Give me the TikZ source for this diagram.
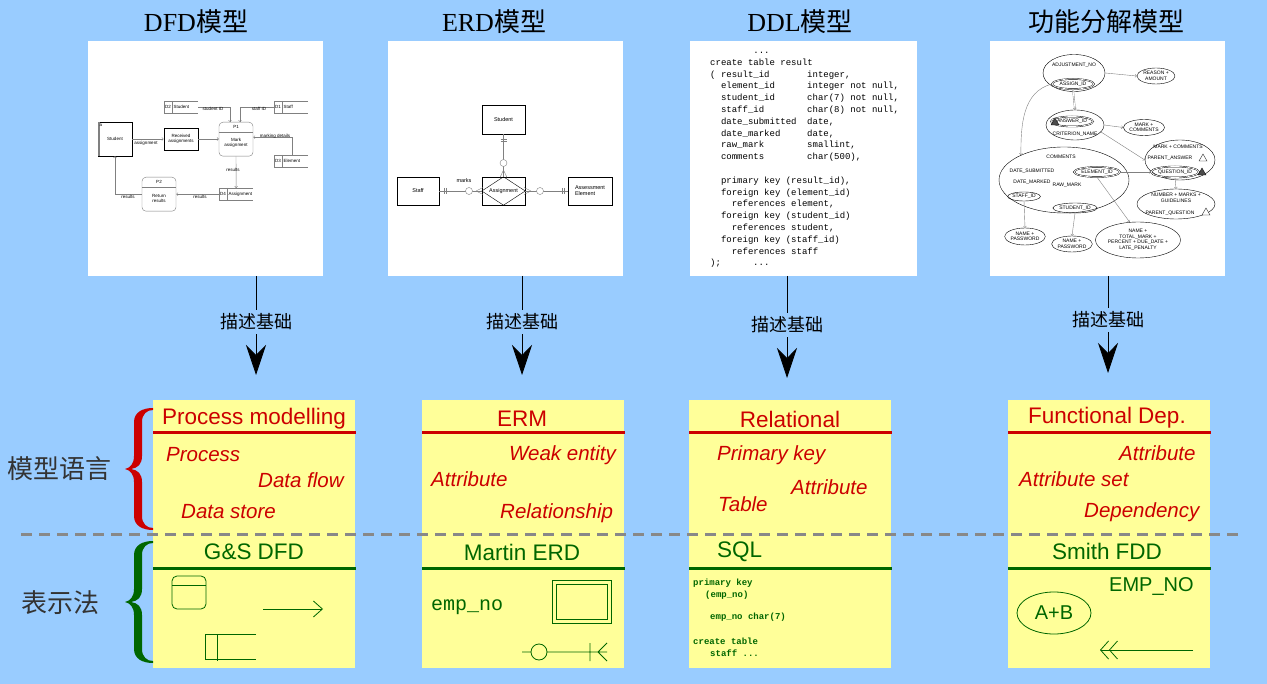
\documentclass[tikz,border=0pt]{standalone}
\usepackage{fontspec}
\setmainfont{Liberation Sans}
\setmonofont{Liberation Mono}
\newfontfamily\cjk{Noto Sans CJK SC}
\newfontfamily\seriffont{Liberation Serif}
\usetikzlibrary{calc}
\usetikzlibrary{arrows.meta}
\usetikzlibrary{shapes.geometric}

\definecolor{fond}{HTML}{99CCFF}
\definecolor{jaune}{HTML}{FFFF99}
\definecolor{rouge}{HTML}{CC0000}
\definecolor{vert}{HTML}{006600}
\definecolor{tirets}{HTML}{888888}

\newcommand\police[2]{\fontsize{#1}{#2}\selectfont}

\tikzstyle{entete}  =[font=\seriffont\police{26}{28}, inner sep=0pt]
\tikzstyle{mini}    =[font=\police{4.5}{5}, inner sep=0.5pt, align=center]
\tikzstyle{fl}      =[draw=gray, line width=0.4pt, -{Straight Barb[length=1.5pt,width=3pt]}]
\tikzstyle{fleche}  =[line width=0.8pt, -{Stealth[length=30pt,width=20pt,inset=10pt]}]
\tikzstyle{titre}   =[font=\police{22.5}{24}, inner sep=0pt]
\tikzstyle{elem}    =[font=\itshape\police{20.5}{22}, text=rouge, inner sep=0pt, anchor=west]
\tikzstyle{entite}  =[draw, font=\police{5.5}{6}, inner sep=0.5pt, align=center]
\tikzstyle{bulle}   =[ellipse, draw, line width=0.4pt, inner sep=0pt, font=\police{5}{5.5}, align=center]
\tikzstyle{bulle2}  =[bulle, double, double distance=0.7pt]
\tikzstyle{ddl}     =[font=\ttfamily\police{9}{10}, inner sep=0pt, anchor=base west]
\tikzstyle{code}    =[font=\ttfamily\bfseries\police{9}{10}, text=vert, inner sep=0pt, anchor=west]

%dépôt de données : x, y (haut), numéro, nom, nom du node
\newcommand\depot[5]{%
  \node[minimum width=34pt, minimum height=12pt, inner sep=0pt, anchor=north west] (#5) at (#1,#2) {};
  \draw[gray] (#1+34,#2) -- (#1,#2) -- (#1,#2+12) -- (#1+34,#2+12) (#1+8,#2) -- (#1+8,#2+12);
  \node[mini] (#5id) at (#1+4,#2+6) {#3};
  \node[mini, anchor=west] (#5nom) at (#1+9,#2+6) {#4};}

%processus : x (centre), y (haut), numéro, texte, nom du node
\newcommand\processus[5]{%
  \node[draw=gray, rounded corners=4pt, minimum width=34pt, minimum height=34pt, inner sep=0pt, anchor=north] (#5) at (#1,#2) {};
  \draw[gray] (#1-17,#2+10) -- (#1+17,#2+10);
  \node[mini] (#5id) at (#1,#2+5) {#3};
  \node[mini] (#5txt) at (#1,#2+21) {#4};}

%petit triangle : x, y, remplissage
\newcommand\tri[3]{\draw[fill=#3, line width=0.3pt] (#1-4,#2+3) -- (#1,#2-4) -- (#1+4,#2+3) -- cycle;}

\begin{document}
\begin{tikzpicture}[x=1pt,y=-1pt]

\useasboundingbox (0,0) rectangle (1267,684);
\fill[fond] (0,0) rectangle (1267,684);

%%%%%%%%%%%%%%%%%%%%%%%%
%Titres et cadres des quatre modèles
%%%%%%%%%%%%%%%%%%%%%%%%

\node[entete] (tDFD) at (196,22) {DFD{\cjk 模型}};
\node[entete] (tERD) at (494,22) {ERD{\cjk 模型}};
\node[entete] (tDDL) at (800,22) {DDL{\cjk 模型}};
\node[entete] (tFD) at (1106,22) {\cjk 功能分解模型};

\foreach \xa/\xb in {88/323, 388/623, 690/917, 990/1225}{\fill[white] (\xa,41) rectangle (\xb,276);}

%%%%%%%%%%%%%%%%%%%%%%%%
%Modèle DFD
%%%%%%%%%%%%%%%%%%%%%%%%

\node[draw, mini, minimum width=34pt, minimum height=34pt] (ext) at (115,139) {Student};
\draw[gray, line width=1.5pt] (98.8,156) -- (98.8,122);
\node[mini] (exta) at (101,125) {a};
\node[draw, line width=0.8pt, mini, minimum width=34pt, minimum height=22pt] (recu) at (181,139) {Received\\assignments};
\processus{236}{122}{P1}{Mark\\assignment}{P1}
\processus{159}{177}{P2}{Return\\results}{P2}
\depot{164}{101}{D2}{Student}{D2}
\depot{274}{101}{D1}{Staff}{D1}
\depot{274}{155}{D3}{Element}{D3}
\depot{219}{188}{D4}{Assignment}{D4}

\draw[fl] (ext.east) -- (recu.west);
\draw[fl] (recu.east) -- (recu.east -| P1.west);
\draw[fl] (D2.east) -| ($(P1.north)+(-6,0)$);
\draw[fl] (D1.west) -| ($(P1.north)+(4,0)$);
\draw[fl] ($(D3.north)+(1,0)$) |- ($(P1.east)+(0,-2)$);
\draw[fl] (P1.south) -- (D4.north);
\draw[fl] (D4.west) -- (D4.west -| P2.east);
\draw[fl] (P2.west) -| (ext.south);

\node[mini] (lb1) at (146,143) {assignment};
\node[mini] (lb2) at (213,109) {student ID};
\node[mini] (lb3) at (259,109) {staff ID};
\node[mini] (lb4) at (275,136) {marking details};
\node[mini] (lb5) at (233,170) {results};
\node[mini] (lb6) at (200,197) {results};
\node[mini] (lb7) at (128,197) {results};

%%%%%%%%%%%%%%%%%%%%%%%%
%Modèle ERD
%%%%%%%%%%%%%%%%%%%%%%%%

\node[entite, minimum width=43pt, minimum height=29pt] (etu) at (503.5,119.5) {Student};
\node[entite, minimum width=42pt, minimum height=28pt] (staff) at (418,191) {Staff};
\node[entite, minimum width=43pt, minimum height=28pt] (ass) at (503.5,191) {};
\draw (ass.west) -- (ass.north) -- (ass.east) -- (ass.south) -- cycle;
\node[font=\police{5.5}{6}, inner sep=0pt] (asstxt) at (ass) {Assignment};
\node[entite, minimum width=44pt, minimum height=28pt, align=left] (ae) at (590,191) {Assessment\\Element};
\node[font=\police{5.5}{6}, inner sep=0pt] (marks) at (464,181) {marks};

\draw[gray] (staff.east) -- (ass.west);
\draw[gray] (etu.south) -- (ass.north);
\draw[gray] (ass.east) -- (ae.west);
%cardinalités
\draw[gray] (444,188) -- (444,194) (446.5,188) -- (446.5,194);
\draw[gray, fill=white] (469,191) circle (3.5);
\draw[gray] (476,191) -- (483,187.5) (476,191) -- (483,194.5);
\draw[gray] (500.5,139) -- (506.5,139) (500.5,141.5) -- (506.5,141.5);
\draw[gray, fill=white] (503.5,163) circle (3.5);
\draw[gray] (503.5,170) -- (500,177.5) (503.5,170) -- (507,177.5);
\draw[gray] (531,191) -- (524,187.5) (531,191) -- (524,194.5);
\draw[gray, fill=white] (540,191) circle (3.5);
\draw[gray] (562,188) -- (562,194) (564.5,188) -- (564.5,194);

%%%%%%%%%%%%%%%%%%%%%%%%
%Modèle DDL
%%%%%%%%%%%%%%%%%%%%%%%%

\foreach \i/\n/\a/\b in {0/8/{...}/{}, 1/0/{create table result}/{},
  2/0/{( result\_id}/{integer,}, 3/2/{element\_id}/{integer not null,},
  4/2/{student\_id}/{char(7) not null,}, 5/2/{staff\_id}/{char(8) not null,},
  6/2/{date\_submitted}/{date,}, 7/2/{date\_marked}/{date,},
  8/2/{raw\_mark}/{smallint,}, 9/2/{comments}/{char(500),},
  11/2/{primary key (result\_id),}/{}, 12/2/{foreign key (element\_id)}/{},
  13/4/{references element,}/{}, 14/2/{foreign key (student\_id)}/{},
  15/4/{references student,}/{}, 16/2/{foreign key (staff\_id)}/{},
  17/4/{references staff}/{}, 18/0/{);}/{}}{
  \node[ddl] (ddlA\i) at (710+\n*5.4, 53.5+\i*11.8) {\a};
  \node[ddl] (ddlB\i) at (807, 53.5+\i*11.8) {\b};
}
\node[ddl] (ddlfin) at (753, 53.5+18*11.8) {...};

%%%%%%%%%%%%%%%%%%%%%%%%
%Modèle de décomposition fonctionnelle
%%%%%%%%%%%%%%%%%%%%%%%%

\node[bulle, minimum width=62pt, minimum height=37pt] (adj) at (1074,73) {};
\node[bulle, draw=none] (adjtxt) at (1074,65) {ADJUSTMENT\_NO};
\node[bulle2, minimum width=42pt, minimum height=10pt] (assign) at (1073,84) {ASSIGN\_ID};
\node[bulle, minimum width=38pt, minimum height=16pt] (reason) at (1156,76) {REASON +\\AMOUNT};

\node[bulle, minimum width=58pt, minimum height=30pt] (ansg) at (1075,125) {};
\node[bulle2, minimum width=42pt, minimum height=10pt] (ansid) at (1072,121.5) {ANSWER\_ID};
\node[bulle, draw=none] (crit) at (1075,134) {CRITERION\_NAME};
\tri{1055}{122}{gray!60!black}
\node[bulle, minimum width=34pt, minimum height=16pt] (mark1) at (1144,127.5) {MARK +\\COMMENTS};

\node[bulle, minimum width=130pt, minimum height=66pt] (big) at (1064,180) {};
\node[bulle, draw=none] (comm) at (1061,157) {COMMENTS};
\node[bulle, draw=none] (dsub) at (1032,171) {DATE\_SUBMITTED};
\node[bulle, draw=none] (dmar) at (1032,182) {DATE\_MARKED};
\node[bulle, draw=none] (raw) at (1067,185) {RAW\_MARK};
\node[bulle2, minimum width=46pt, minimum height=10pt] (elemid) at (1097,172) {ELEMENT\_ID};
\node[bulle, minimum width=31pt, minimum height=9pt] (staffid) at (1024,196.5) {STAFF\_ID};
\node[bulle, minimum width=39pt, minimum height=10pt] (studid) at (1075,208) {STUDENT\_ID};

\node[bulle, minimum width=70pt, minimum height=40pt] (droite) at (1180,160) {};
\node[bulle, draw=none] (mc) at (1178,147) {MARK + COMMENTS};
\node[bulle, draw=none] (pans) at (1170,158) {PARENT\_ANSWER};
\tri{1203}{158}{white}
\node[bulle2, minimum width=46pt, minimum height=11pt] (questid) at (1175,172) {QUESTION\_ID};
\tri{1202}{172}{gray!60!black}

\node[bulle, minimum width=78pt, minimum height=30pt] (number) at (1176,204) {};
\node[bulle, draw=none] (nmg) at (1176,198) {NUMBER + MARKS +\\GUIDELINES};
\node[bulle, draw=none] (pq) at (1170,213) {PARENT\_QUESTION};
\tri{1206}{212}{white}

\node[bulle, minimum width=36pt, minimum height=17pt] (np1) at (1025,236.5) {NAME +\\PASSWORD};
\node[bulle, minimum width=37pt, minimum height=16pt] (np2) at (1072,244) {NAME +\\PASSWORD};
\node[bulle, minimum width=63pt, minimum height=36pt] (tot) at (1138,240) {NAME +\\TOTAL\_MARK +\\PERCENT + DUE\_DATE +\\LATE\_PENALTY};

\draw[fl] (adj.east) -- (reason.west);
\draw[fl, double, double distance=0.8pt] (assign.south) -- (ansg.north);
\draw[fl] (assign.west) to[out=195, in=90] (big.150);
\draw[fl] (ansg.east) -- (mark1.west);
\draw[fl] (ansg.-15) -- (droite.west);
\draw[fl] (elemid.east) -- (questid.west);
\draw[fl] (questid.south) -- (number.north);
\draw[fl] (staffid.south) -- (np1.north);
\draw[fl] (studid.south) -- (np2.north);
\draw[fl] (elemid.south) -- (tot.115);

%%%%%%%%%%%%%%%%%%%%%%%%
%Flèches «描述基础»
%%%%%%%%%%%%%%%%%%%%%%%%

\foreach \x/\y/\n in {256/322/A, 522/322/B, 787/325/C, 1108/320/D}{
  \coordinate (haut\n) at (\x,276);
  \node[font=\cjk\police{18}{20}, inner sep=4pt] (base\n) at (\x,\y) {描述基础};
  \coordinate (pointe\n) at (\x,\y+53);
  \draw[line width=0.8pt] (haut\n) -- (base\n);
  \draw[fleche] (base\n) -- (pointe\n);
}

%%%%%%%%%%%%%%%%%%%%%%%%
%Boîtes jaunes
%%%%%%%%%%%%%%%%%%%%%%%%

\foreach \x in {153, 422, 689, 1008}{
  \fill[jaune] (\x,400) rectangle ++(202,268);
  \draw[rouge, line width=3pt] (\x,433) -- ++(203,0);
  \draw[vert, line width=3pt] (\x,568) -- ++(203,0);
}

%boîte 1
\node[titre, text=rouge] (titreA) at (254,419) {Process modelling};
\node[elem] (pA1) at (166,455) {Process};
\node[elem] (pA2) at (258,480) {Data flow};
\node[elem] (pA3) at (181,512) {Data store};
\node[titre, text=vert] (notA) at (254,552) {G\&S DFD};
\draw[vert, line width=0.8pt, rounded corners=5pt] (172,576) rectangle (206,609);
\draw[vert, line width=0.8pt] (172,585) -- (206,585);
\draw[vert, line width=0.8pt, -{Straight Barb[length=9pt,width=16pt]}] (263,609) -- (323,609);
\draw[vert, line width=0.8pt] (256,634) -- (205,634) -- (205,659) -- (256,659) (217,634) -- (217,661);

%boîte 2
\node[titre, text=rouge] (titreB) at (522,419) {ERM};
\node[elem] (pB1) at (509,455) {Weak entity};
\node[elem] (pB2) at (431,479) {Attribute};
\node[elem] (pB3) at (500,513) {Relationship};
\node[titre, text=vert] (notB) at (522,552) {Martin ERD};
\node[font=\ttfamily\police{20}{22}, text=vert, inner sep=0pt, anchor=west] (empno) at (431,607) {emp\_no};
\draw[vert, line width=0.8pt] (552,580) rectangle (611,623) (556,584) rectangle (607,619);
\draw[vert, line width=0.8pt] (522,652) -- (607,652) (590,643) -- (590,661) (598,652) -- (607,643) (598,652) -- (607,661);
\draw[vert, line width=0.8pt, fill=jaune] (539,652) circle (8);

%boîte 3
\node[titre, text=rouge] (titreC) at (790,419) {Relational};
\node[elem] (pC1) at (717,455) {Primary key};
\node[elem] (pC2) at (791,487) {Attribute};
\node[elem] (pC3) at (718,504) {Table};
\node[titre, text=vert, anchor=west] (notC) at (717,552) {SQL};
\node[code] (sq1) at (693,583) {primary key};
\node[code] (sq2) at (705,595) {(emp\_no)};
\node[code] (sq3) at (710,617) {emp\_no char(7)};
\node[code] (sq4) at (693,641) {create table};
\node[code] (sq5) at (710,653) {staff ...};

%boîte 4
\node[titre, text=rouge] (titreD) at (1107,418) {Functional Dep.};
\node[elem] (pD1) at (1119,453) {Attribute};
\node[elem] (pD2) at (1019,479) {Attribute set};
\node[elem] (pD3) at (1084,512) {Dependency};
\node[titre, text=vert] (notD) at (1107,551) {Smith FDD};
\node[font=\police{20}{22}, text=vert, inner sep=0pt, anchor=west] (empNO) at (1109,587) {EMP\_NO};
\node[ellipse, draw=vert, line width=0.8pt, minimum width=74pt, minimum height=42pt, inner sep=0pt, text=vert, font=\police{20}{22}] (AB) at (1054,613) {A+B};
\draw[vert, line width=0.8pt, -{Straight Barb[length=8pt,width=18pt] Straight Barb[length=8pt,width=18pt]}] (1193,650) -- (1100,650);

%%%%%%%%%%%%%%%%%%%%%%%%
%Ligne de séparation, accolades et légendes
%%%%%%%%%%%%%%%%%%%%%%%%

\draw[tirets, line width=3pt, dash pattern=on 11pt off 7pt] (21,534) -- (1243,534);

\foreach \yb/\coul in {408/rouge, 541/vert}{
\begin{scope}[shift={(153,\yb)}]
\fill[\coul] (0,0) .. controls (-10,0) and (-19,4) .. (-19,14) -- (-19,48)
  .. controls (-19,56) and (-23,60) .. (-28,61) .. controls (-23,62) and (-19,66) .. (-19,74)
  -- (-19,108) .. controls (-19,118) and (-10,122) .. (0,122) -- (0,120)
  .. controls (-6,120) and (-11,116) .. (-11,108) -- (-11,74)
  .. controls (-11,66) and (-15,62) .. (-22,61) .. controls (-15,60) and (-11,56) .. (-11,48)
  -- (-11,14) .. controls (-11,6) and (-6,2) .. (0,2) -- cycle;
\end{scope}
}

\node[font=\cjk\police{26}{28}, text=black!80, inner sep=0pt] (langage) at (60,469) {模型语言};
\node[font=\cjk\police{26}{28}, text=black!80, inner sep=0pt] (notation) at (60,603) {表示法};

\end{tikzpicture}
\end{document}
